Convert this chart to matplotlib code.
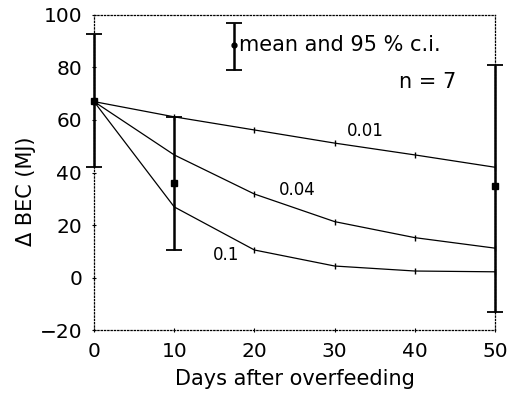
import matplotlib
matplotlib.use("Agg")
import matplotlib.pyplot as plt

days = [0, 10, 20, 30, 40, 50]
rate_labels = ["0.01", "0.04", "0.1"]
bec_001 = [67, 61.2, 56.2, 51.2, 46.7, 42.0]
bec_004 = [67, 46.7, 31.8, 21.3, 15.2, 11.2]
bec_01 = [67, 26.9, 10.5, 4.4, 2.5, 2.2]

obs_days = [0, 10, 50]
obs_mean = [67.2, 36.0, 34.9]
obs_low = [42.1, 10.5, -13.0]
obs_high = [92.8, 61.1, 81.0]

plt.rcParams['font.family'] = ['DejaVu Sans']
fig = plt.figure(figsize=(5.11, 3.93), dpi=100)
ax = fig.add_axes([0.184, 0.160, 0.785, 0.802])

for vals in (bec_001, bec_004, bec_01):
    ax.plot(days, vals, color='black', lw=0.9, marker='|', ms=5, mew=1,
            clip_on=False)

# observed means with 95 % c.i.
err_lo = [m - l for m, l in zip(obs_mean, obs_low)]
err_hi = [h - m for m, h in zip(obs_mean, obs_high)]
eb = ax.errorbar(obs_days, obs_mean, yerr=[err_lo, err_hi], fmt='s', color='black',
                 ms=5, elinewidth=1.8, capsize=6, capthick=1.3, zorder=3)
eb.lines[0].set_clip_on(False)
for art in tuple(eb.lines[1]) + tuple(eb.lines[2]):
    art.set_clip_on(False)

# legend symbol
ax.errorbar([17.5], [88.4], yerr=[[9.4], [8.6]], fmt='o', color='black',
            ms=3.5, elinewidth=1.8, capsize=6, capthick=1.3)
ax.text(18.1, 88.4, "mean and 95 % c.i.", fontsize=15, va='center', ha='left')
ax.text(45.2, 74.5, "n = 7", fontsize=15, va='center', ha='right')

ax.text(33.8, 55.8, rate_labels[0], fontsize=12, ha='center', va='center')
ax.text(25.3, 33.3, rate_labels[1], fontsize=12, ha='center', va='center')
ax.text(16.5, 8.6, rate_labels[2], fontsize=12, ha='center', va='center')

ax.set_xlim(0, 50)
ax.set_ylim(-20, 100)
ax.set_xticks(days)
ax.set_yticks([-20, 0, 20, 40, 60, 80, 100])
for s in ax.spines.values():
    s.set_linestyle(':')
    s.set_linewidth(0.9)
ax.tick_params(labelsize=14.5, length=3, width=0.8, direction='inout', pad=7)
ax.set_xlabel("Days after overfeeding", fontsize=15, labelpad=6)
ax.set_ylabel("Δ BEC (MJ)", fontsize=15)
ax.yaxis.set_label_coords(-0.145, 0.44)

fig.savefig("out.png", dpi=100)
